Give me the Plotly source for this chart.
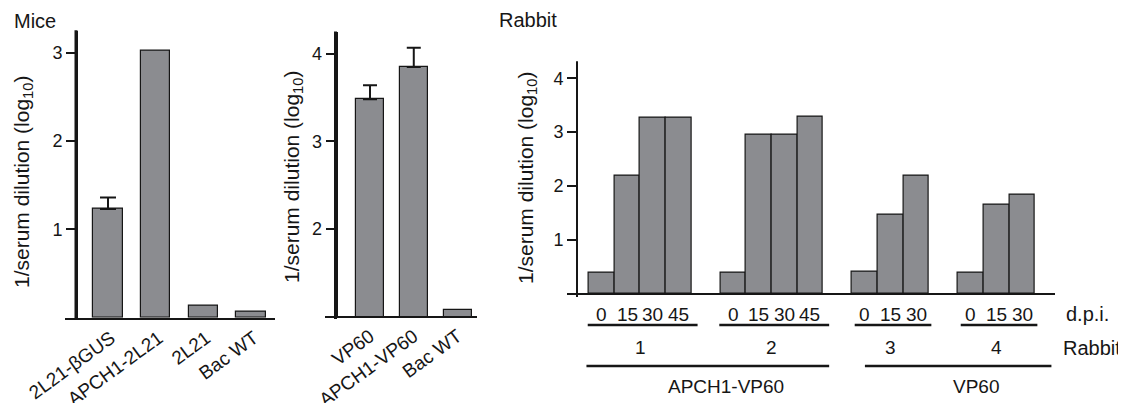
import plotly.graph_objects as go

# page is 1126x403; the html body has an 8px margin, so the figure is sized to fit
PAGE_W, PAGE_H = 1126, 403
OFF = 8
W, H = PAGE_W - OFF, PAGE_H - OFF

# ---------------- data ----------------
mice_a_cats = ["2L21-βGUS", "APCH1-2L21", "2L21", "Bac WT"]
mice_a_vals = [1.23, 3.02, 0.14, 0.07]
mice_a_err_top = [1.36, None, None, None]

mice_b_cats = ["VP60", "APCH1-VP60", "Bac WT"]
mice_b_vals = [3.48, 3.85, 1.07]
mice_b_err_top = [3.64, 4.07, None]

rabbit_ids = ["1", "2", "3", "4"]
rabbit_treatment = ["APCH1-VP60", "APCH1-VP60", "VP60", "VP60"]
rabbit_dpi = [[0, 15, 30, 45], [0, 15, 30, 45], [0, 15, 30], [0, 15, 30]]
rabbit_titer = [[0.38, 2.18, 3.27, 3.27],
                [0.38, 2.95, 2.95, 3.29],
                [0.41, 1.47, 2.18],
                [0.38, 1.65, 1.84]]

ytitle = "1/serum dilution (log<sub>10</sub>)"

# ---------------- style ----------------
FONT = "Liberation Sans, Arial, sans-serif"
BAR_FILL = "#8b8c90"
INK = "#161616"
FS = 18
GROUP_GAP = 1.15


def px(x):
    """page pixel x -> paper fraction"""
    return (x - OFF) / W


def py(y):
    """page pixel y -> paper fraction"""
    return 1 - (y - OFF) / H


# rabbit bar positions (in bar-width units) derived from group structure
starts = []
s = 0.0
for g in rabbit_dpi:
    starts.append(s)
    s += len(g) + GROUP_GAP
rb_x, rb_y = [], []
for st, vals in zip(starts, rabbit_titer):
    for i, v in enumerate(vals):
        rb_x.append(st + i + 0.5)
        rb_y.append(v)

fig = go.Figure()

bar_line = dict(color=INK, width=1.2)

fig.add_trace(go.Bar(x=mice_a_cats, y=mice_a_vals, width=0.61,
                     marker=dict(color=BAR_FILL, line=bar_line),
                     xaxis="x", yaxis="y", showlegend=False))
ea = [(c, v, t) for c, v, t in zip(mice_a_cats, mice_a_vals, mice_a_err_top) if t is not None]
fig.add_trace(go.Scatter(x=[e[0] for e in ea], y=[e[1] for e in ea], mode="markers",
                         marker=dict(size=1, opacity=0),
                         error_y=dict(type="data", symmetric=False,
                                      array=[e[2] - e[1] for e in ea],
                                      arrayminus=[0] * len(ea),
                                      color=INK, thickness=2, width=8),
                         xaxis="x", yaxis="y", showlegend=False))

fig.add_trace(go.Bar(x=mice_b_cats, y=mice_b_vals, width=0.64,
                     marker=dict(color=BAR_FILL, line=bar_line),
                     xaxis="x2", yaxis="y2", showlegend=False))
eb = [(c, v, t) for c, v, t in zip(mice_b_cats, mice_b_vals, mice_b_err_top) if t is not None]
fig.add_trace(go.Scatter(x=[e[0] for e in eb], y=[e[1] for e in eb], mode="markers",
                         marker=dict(size=1, opacity=0),
                         error_y=dict(type="data", symmetric=False,
                                      array=[e[2] - e[1] for e in eb],
                                      arrayminus=[0] * len(eb),
                                      color=INK, thickness=2, width=7),
                         xaxis="x2", yaxis="y2", showlegend=False))

fig.add_trace(go.Bar(x=rb_x, y=rb_y, width=1.0,
                     marker=dict(color=BAR_FILL, line=bar_line),
                     xaxis="x3", yaxis="y3", showlegend=False))

tickfont = dict(family=FONT, size=FS, color=INK)
xtickfont = dict(family=FONT, size=19, color=INK)
common_y = dict(showline=True, linecolor=INK, ticks="outside", tickcolor=INK,
                ticklen=9, tickwidth=2, showgrid=False, zeroline=False,
                tickfont=tickfont, anchor="free", automargin=False)
common_x = dict(showline=True, linecolor=INK, linewidth=2, ticks="",
                showgrid=False, zeroline=False, tickfont=xtickfont, automargin=False)

fig.update_layout(
    width=W, height=H, autosize=False,
    margin=dict(l=0, r=0, t=0, b=0, pad=0, autoexpand=False),
    paper_bgcolor="white", plot_bgcolor="white",
    font=dict(family=FONT, size=FS, color=INK),
    bargap=0,
    xaxis=dict(domain=[px(65), px(275)], range=[-0.902, 3.503], type="category",
               anchor="y", tickangle=-36, ticklabelshift=3, **common_x),
    yaxis=dict(domain=[py(317.7), py(30.7)], range=[0, 3.25],
               position=px(76), linewidth=3, tickvals=[1, 2, 3], **common_y),
    xaxis2=dict(domain=[px(325), px(476.5)], range=[-1.029, 2.434], type="category",
                anchor="y2", tickangle=-36, **common_x),
    yaxis2=dict(domain=[py(316), py(32)], range=[1, 4.25],
                position=px(335.5), linewidth=3, tickvals=[2, 3, 4], **common_y),
    xaxis3=dict(domain=[px(566.7), px(1055)], range=[-0.873, 18.24],
                anchor="y3", showticklabels=False, **common_x),
    yaxis3=dict(domain=[py(293.3), py(61.7)], range=[0, 4.31],
                position=px(577), linewidth=2, tickvals=[1, 2, 3, 4], **common_y),
)

ann = []
# panel titles
ann.append(dict(text="Mice", x=px(12), y=py(21), xref="paper", yref="paper",
                xanchor="left", yanchor="middle", showarrow=False, font=dict(size=20)))
ann.append(dict(text="Rabbit", x=px(497), y=py(20), xref="paper", yref="paper",
                xanchor="left", yanchor="middle", showarrow=False, font=dict(size=20)))
# y titles
for xc, yc in [(23, 182), (293, 177), (527, 178)]:
    ann.append(dict(text=ytitle, x=px(xc), y=py(yc), xref="paper", yref="paper",
                    xanchor="center", yanchor="middle", textangle=-90,
                    showarrow=False, font=dict(size=21)))

# d.p.i. labels under rabbit bars
k = 0
for vals in rabbit_dpi:
    for d in vals:
        ann.append(dict(text=str(d), x=rb_x[k], y=py(314), xref="x3", yref="paper",
                        xanchor="center", yanchor="middle", showarrow=False,
                        font=dict(size=19)))
        k += 1
ann.append(dict(text="d.p.i.", x=px(1064), y=py(314), xref="paper", yref="paper",
                xanchor="left", yanchor="middle", showarrow=False, font=dict(size=20)))

shapes = []
# y-axis lines run a little below the baseline in the reference
for xp, ytop, ybot in [(76, 30.7, 320), (335.5, 32, 319), (577, 61.7, 297)]:
    shapes.append(dict(type="line", xref="paper", yref="paper", x0=px(xp), x1=px(xp),
                       y0=py(ybot), y1=py(ytop - 0.5),
                       line=dict(color=INK, width=3 if xp < 500 else 2)))

# rabbit group underlines and numbers
for st, vals, rid in zip(starts, rabbit_dpi, rabbit_ids):
    n = len(vals)
    c = st + n / 2 + 0.1
    hw = n / 2 + (0.15 if n > 3 else 0.0)
    shapes.append(dict(type="line", xref="x3", yref="paper", x0=c - hw, x1=c + hw,
                       y0=py(325), y1=py(325), line=dict(color=INK, width=2.5)))
    ann.append(dict(text=rid, x=st + n / 2, y=py(347.5), xref="x3", yref="paper",
                    xanchor="center", yanchor="middle", showarrow=False,
                    font=dict(size=19)))
ann.append(dict(text="Rabbit", x=px(1061), y=py(347.5), xref="paper", yref="paper",
                xanchor="left", yanchor="middle", showarrow=False, font=dict(size=20)))

# treatment lines
treat_order = []
for t in rabbit_treatment:
    if t not in treat_order:
        treat_order.append(t)
treat_pad = {0: (-0.1, 0.25), 1: (0.5, 0.65)}
for ti, t in enumerate(treat_order):
    idx = [i for i, tt in enumerate(rabbit_treatment) if tt == t]
    x0 = starts[idx[0]] + treat_pad[ti][0]
    x1 = starts[idx[-1]] + len(rabbit_dpi[idx[-1]]) + treat_pad[ti][1]
    shapes.append(dict(type="line", xref="x3", yref="paper", x0=x0, x1=x1,
                       y0=py(366), y1=py(366), line=dict(color=INK, width=2.5)))
    ann.append(dict(text=t, x=(x0 + x1) / 2 + 0.7, y=py(386), xref="x3", yref="paper",
                    xanchor="center", yanchor="middle", showarrow=False,
                    font=dict(size=19)))

fig.update_layout(annotations=ann, shapes=shapes)

fig.write_html("out.html")
